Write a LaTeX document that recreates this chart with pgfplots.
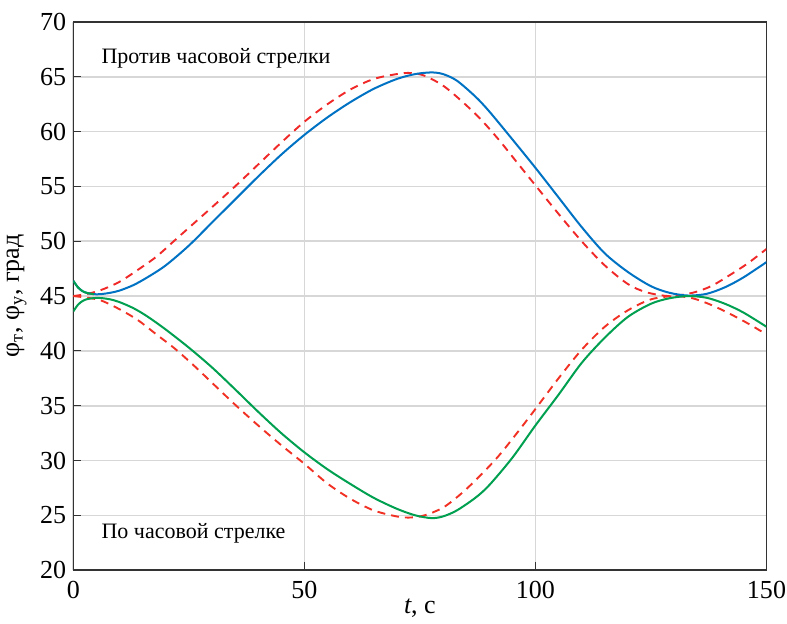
\documentclass[border=0pt]{standalone}
\usepackage{pgfplots}
\pgfplotsset{compat=1.18}
\usepackage{fontspec}
\setmainfont{Liberation Serif}
\definecolor{cblue}{RGB}{0,114,195}
\definecolor{cgreen}{RGB}{0,160,80}
\definecolor{cred}{RGB}{240,40,40}
\definecolor{cgrid}{RGB}{215,215,215}
\begin{document}
\begin{tikzpicture}
\begin{axis}[
  scale only axis,
  width=346.5pt, height=274pt,
  xmin=0, xmax=150, ymin=20, ymax=70,
  xtick={0,50,100,150}, ytick={20,25,...,70},
  grid=major,
  grid style={cgrid, line width=0.8pt},
  axis line style={black!80, line width=0.7pt},
  tick align=inside, tick pos=left,
  major tick length=4pt,
  tick style={black!80, line width=0.6pt},
  /pgf/number format/assume math mode=true,
  ticklabel style={font=\fontsize{13}{15}\selectfont},
  xticklabel style={inner xsep=0.5pt, yshift=-2pt},
  xlabel={\textit{t}, с},
  ylabel={φ\textsubscript{т}, φ\textsubscript{у}, град},
  label style={font=\fontsize{13}{15}\selectfont},
  xlabel style={yshift=7pt},
  ylabel style={yshift=0pt},
  every axis plot/.append style={smooth, tension=0.5},
]
% upper red dashed
\addplot[cred, line width=0.95pt, dash pattern=on 4pt off 3pt] coordinates {
(0,45.0) (3,45.2) (6,45.55) (10,46.3) (14,47.4) (18,48.6) (22,50.1) (26,51.6) (30,53.1) (35,55.0)
(40,57.0) (45,59.0) (50,60.9) (55,62.5) (60,63.85) (65,64.8) (70,65.25) (73,65.35) (76,65.1) (80,64.2)
(84,62.8) (88,61.2) (92,59.3) (96,57.2) (100,55.1) (105,52.5) (110,50.0) (115,47.8) (120,46.1) (124,45.35)
(129,45.0) (134,45.3) (138,45.9) (142,46.9) (146,48.0) (150,49.3)};
% lower red dashed
\addplot[cred!90!orange, line width=0.95pt, dash pattern=on 4pt off 3pt] coordinates {
(0,45.0) (3,44.85) (6,44.6) (10,43.8) (14,42.8) (18,41.5) (22,40.2) (26,38.7) (30,37.1) (35,35.1)
(40,33.2) (45,31.4) (50,29.7) (55,27.9) (60,26.5) (65,25.45) (70,24.9) (73,24.8) (76,25.0) (80,25.7)
(84,27.0) (88,28.6) (92,30.4) (96,32.5) (100,34.7) (105,37.5) (110,40.1) (115,42.2) (120,43.7) (125,44.7)
(130,45.0) (134,44.8) (138,44.2) (142,43.4) (146,42.5) (150,41.5)};
% blue (counterclockwise)
\addplot[cblue, line width=1pt] coordinates {
(0,46.4) (1,45.8) (2,45.45) (3,45.28) (4.5,45.17) (6,45.18) (8,45.3) (10,45.5) (13,46.0) (16,46.7)
(20,47.8) (25,49.6) (30,51.7) (35,53.8) (40,55.9) (45,57.9) (50,59.7) (55,61.3) (60,62.7) (65,63.9)
(70,64.8) (74,65.25) (77.5,65.4) (80,65.25) (83,64.65) (87,63.2) (90,61.85) (95,59.3) (100,56.7) (105,54.0)
(110,51.3) (115,48.9) (120,47.2) (125,45.9) (129,45.3) (133,45.05) (137,45.2) (141,45.8) (145,46.7) (150,48.1)};
% green (clockwise)
\addplot[cgreen, line width=1pt] coordinates {
(0,43.6) (1,44.2) (2,44.55) (3,44.72) (4.5,44.82) (6,44.82) (8,44.7) (10,44.45) (13,43.9) (16,43.15)
(20,41.95) (25,40.3) (30,38.5) (35,36.5) (40,34.45) (45,32.5) (50,30.75) (55,29.2) (60,27.85) (65,26.6)
(70,25.6) (74,25.0) (77.5,24.75) (80,24.9) (83,25.45) (87,26.6) (90,27.75) (95,30.25) (100,33.2) (105,36.0)
(110,38.9) (115,41.2) (120,43.1) (125,44.3) (129,44.8) (133,45.0) (137,44.85) (141,44.3) (145,43.5) (150,42.2)};
% green start overlay
\addplot[cgreen, line width=1pt] coordinates {
(0,46.4) (1,45.8) (2,45.45) (3,45.28) (4.5,45.17)};
\node[anchor=west, font=\fontsize{11}{13}\selectfont] at (axis cs:4.6,66.7) {Против часовой стрелки};
\node[anchor=west, font=\fontsize{11}{13}\selectfont] at (axis cs:4.6,23.4) {По часовой стрелке};
\end{axis}
\path ([yshift=11pt]current axis.north) -- ([yshift=11pt]current axis.north);
\end{tikzpicture}
\end{document}
